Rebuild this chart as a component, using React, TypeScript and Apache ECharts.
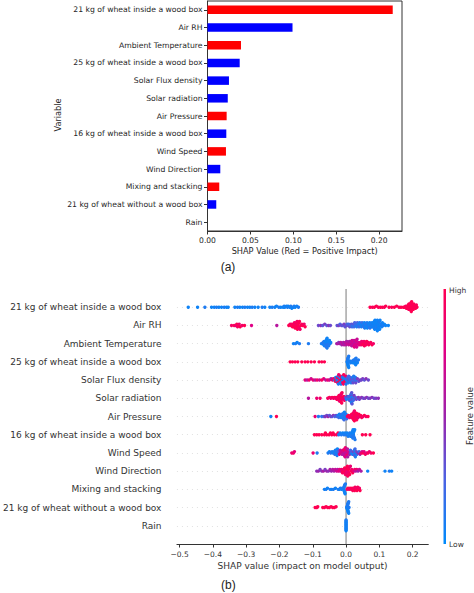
import React, { useEffect, useRef } from "react";
import * as echarts from "echarts";

const features = [
  "21 kg of wheat inside a wood box",
  "Air RH",
  "Ambient Temperature",
  "25 kg of wheat inside a wood box",
  "Solar Flux density",
  "Solar radiation",
  "Air Pressure",
  "16 kg of wheat inside a wood box",
  "Wind Speed",
  "Wind Direction",
  "Mixing and stacking",
  "21 kg of wheat without a wood box",
  "Rain",
];

// (a) mean |SHAP| per variable and sign of impact
const meanAbsShap = [0.2157, 0.099, 0.039, 0.0375, 0.025, 0.0236, 0.0223, 0.0219, 0.0215, 0.0149, 0.0137, 0.0102, 0];
const positiveImpact = [true, false, true, false, false, false, true, false, true, false, true, false, false];
const barTicks = [0, 0.05, 0.1, 0.15, 0.2];
const swarmTicks = [-0.5, -0.4, -0.3, -0.2, -0.1, 0, 0.1, 0.2];

// (b) SHAP value, feature value (0 = low, 1 = high)
const wheat21Box: [number, number][] = [
  [-0.474, 0.05], [-0.446, 0.05], [-0.424, 0.1], [-0.404, 0.05], [-0.396, 0.05], [-0.389, 0.1], [-0.382, 0.05], [-0.374, 0.05],
  [-0.366, 0.1], [-0.359, 0.05], [-0.354, 0.05], [-0.334, 0.05], [-0.326, 0.1], [-0.319, 0.05], [-0.311, 0.05], [-0.304, 0.1],
  [-0.296, 0.05], [-0.289, 0.05], [-0.282, 0.1], [-0.274, 0.05], [-0.264, 0.05], [-0.252, 0.1], [-0.244, 0.05], [-0.229, 0.05],
  [-0.222, 0.1], [-0.214, 0.05], [-0.209, 0.05], [-0.202, 0.1], [-0.196, 0.05], [-0.189, 0.05], [-0.186, 0.1], [-0.184, 0.05],
  [-0.179, 0.05], [-0.176, 0.1], [-0.174, 0.05], [-0.169, 0.05], [-0.166, 0.1], [-0.163, 0.05], [-0.158, 0.05], [-0.156, 0.1],
  [-0.153, 0.05], [-0.148, 0.05], [-0.143, 0.1],
  [0.072, 1], [0.079, 0.95], [0.085, 1], [0.091, 1], [0.097, 0.95], [0.103, 1], [0.109, 1], [0.115, 0.95], [0.119, 1],
  [0.129, 1], [0.137, 0.95], [0.145, 1], [0.152, 1], [0.159, 0.95], [0.165, 1], [0.172, 1],
  [0.176, 1], [0.179, 0.95], [0.181, 1], [0.183, 1], [0.184, 0.95], [0.186, 1], [0.187, 1], [0.188, 0.95], [0.189, 1],
  [0.19, 1], [0.191, 0.95], [0.192, 1], [0.193, 1], [0.193, 0.95], [0.194, 1], [0.195, 1], [0.195, 0.95], [0.196, 1],
  [0.197, 1], [0.198, 0.95], [0.199, 1], [0.2, 1], [0.201, 0.95], [0.202, 1], [0.203, 1], [0.205, 0.95], [0.207, 1],
  [0.209, 1], [0.211, 0.95], [0.213, 1],
];

const airRH: [number, number][] = [
  [-0.344, 0.9], [-0.336, 1], [-0.331, 0.8], [-0.328, 1], [-0.326, 0.9], [-0.323, 1], [-0.321, 0.85], [-0.318, 1],
  [-0.312, 0.9], [-0.305, 1], [-0.284, 0.75], [-0.208, 0.6],
  [-0.172, 1], [-0.168, 0.95], [-0.165, 1], [-0.163, 0.9], [-0.161, 1], [-0.159, 0.95], [-0.158, 1], [-0.156, 1],
  [-0.155, 0.9], [-0.153, 1], [-0.152, 0.95], [-0.151, 0.9], [-0.15, 1], [-0.149, 1], [-0.148, 1], [-0.147, 0.9],
  [-0.146, 1], [-0.145, 0.95], [-0.144, 0.95], [-0.143, 1], [-0.142, 1], [-0.141, 0.9], [-0.14, 1], [-0.138, 0.9],
  [-0.136, 1], [-0.133, 0.95], [-0.13, 1], [-0.126, 0.9], [-0.123, 1],
  [-0.083, 0.35], [-0.076, 0.45], [-0.07, 0.3], [-0.064, 0.4], [-0.058, 0.3], [-0.052, 0.45], [-0.047, 0.35],
  [-0.027, 0.3], [-0.022, 0.4], [-0.018, 0.25], [-0.014, 0.35], [-0.01, 0.3], [-0.006, 0.4], [-0.003, 0.3],
  [0.0, 0.35], [0.003, 0.25], [0.006, 0.3], [0.008, 0.2], [0.011, 0.35], [0.013, 0.25], [0.016, 0.3], [0.018, 0.2],
  [0.02, 0.15], [0.022, 0.3], [0.024, 0.2], [0.026, 0.25], [0.028, 0.15], [0.03, 0.2], [0.032, 0.1], [0.034, 0.25],
  [0.036, 0.15], [0.037, 0.1], [0.039, 0.2], [0.041, 0.1], [0.043, 0.15], [0.044, 0.05], [0.046, 0.1], [0.048, 0.2],
  [0.05, 0.05], [0.051, 0.1], [0.053, 0.15], [0.055, 0.05], [0.056, 0.1], [0.058, 0.05], [0.06, 0.15], [0.061, 0.05],
  [0.063, 0.1], [0.064, 0.05], [0.066, 0.1], [0.068, 0.05], [0.069, 0.1], [0.071, 0.05], [0.072, 0.15], [0.074, 0.05],
  [0.075, 0.1], [0.077, 0.05], [0.078, 0.05], [0.08, 0.1], [0.081, 0.05], [0.082, 0.05], [0.083, 0.05], [0.084, 0.1],
  [0.085, 0.05], [0.086, 0.05], [0.087, 0.05], [0.088, 0.1], [0.089, 0.05], [0.089, 0.05], [0.09, 0.05], [0.091, 0.1],
  [0.092, 0.05], [0.093, 0.05], [0.094, 0.05], [0.094, 0.05], [0.095, 0.1], [0.096, 0.05], [0.097, 0.05], [0.098, 0.05],
  [0.099, 0.05], [0.1, 0.1], [0.101, 0.05], [0.102, 0.05], [0.103, 0.05], [0.105, 0.1], [0.107, 0.05], [0.109, 0.05],
  [0.112, 0.1], [0.115, 0.05], [0.119, 0.05], [0.127, 0.05],
];

const ambientTemp: [number, number][] = [
  [-0.158, 0.05], [-0.152, 0.1], [-0.147, 0.05], [-0.14, 0.1], [-0.113, 0.1],
  [-0.074, 0.1], [-0.071, 0.05], [-0.069, 0.15], [-0.067, 0.05], [-0.066, 0.1], [-0.065, 0.05], [-0.064, 0.15], [-0.063, 0.05],
  [-0.062, 0.1], [-0.061, 0.05], [-0.06, 0.1], [-0.06, 0.05], [-0.059, 0.15], [-0.058, 0.05], [-0.057, 0.1], [-0.057, 0.05],
  [-0.056, 0.1], [-0.055, 0.05], [-0.054, 0.15], [-0.053, 0.05], [-0.052, 0.1], [-0.05, 0.05], [-0.048, 0.1], [-0.046, 0.05],
  [-0.028, 0.5], [-0.025, 0.6], [-0.022, 0.45], [-0.019, 0.55], [-0.016, 0.6], [-0.013, 0.5], [-0.01, 0.65], [-0.008, 0.55],
  [-0.006, 0.6], [-0.004, 0.5], [-0.002, 0.65], [0.0, 0.6], [0.002, 0.55], [0.004, 0.7], [0.006, 0.6], [0.008, 0.65],
  [0.01, 0.55], [0.012, 0.7], [0.013, 0.6], [0.015, 0.75], [0.016, 0.65], [0.017, 0.6], [0.018, 0.7], [0.019, 0.8],
  [0.02, 0.65], [0.021, 0.6], [0.022, 0.75], [0.023, 0.7], [0.024, 0.65], [0.025, 0.8], [0.026, 0.7], [0.027, 0.6],
  [0.028, 0.75], [0.029, 0.65], [0.03, 0.7], [0.031, 0.8], [0.032, 0.7], [0.033, 0.65], [0.035, 0.75], [0.037, 0.7],
  [0.039, 0.8], [0.041, 0.75], [0.043, 0.85], [0.045, 0.9], [0.047, 0.85], [0.049, 0.95], [0.051, 0.9], [0.052, 1],
  [0.054, 0.9], [0.055, 0.95], [0.057, 1], [0.058, 0.9], [0.06, 0.95], [0.062, 1], [0.064, 0.9], [0.066, 0.95],
  [0.068, 1], [0.071, 0.9], [0.074, 0.95], [0.078, 1], [0.082, 0.9],
];

const wheat25Box: [number, number][] = [
  [-0.168, 1], [-0.161, 1], [-0.153, 1], [-0.145, 1], [-0.133, 1], [-0.123, 1], [-0.115, 1], [-0.105, 1],
  [-0.095, 1], [-0.081, 1], [-0.073, 1], [-0.065, 1],
  [0.003, 0.05], [0.004, 0.1], [0.004, 0.05], [0.005, 0.1], [0.005, 0.05], [0.005, 0.1], [0.006, 0.05], [0.006, 0.1],
  [0.006, 0.05], [0.007, 0.1], [0.007, 0.05], [0.008, 0.1], [0.008, 0.05], [0.009, 0.1],
  [0.011, 0.05], [0.014, 0.1], [0.017, 0.05], [0.019, 0.1], [0.021, 0.05], [0.023, 0.1], [0.024, 0.05], [0.025, 0.1],
  [0.026, 0.05], [0.027, 0.1], [0.027, 0.05], [0.028, 0.1], [0.029, 0.05], [0.03, 0.1], [0.031, 0.05], [0.032, 0.1],
  [0.034, 0.05], [0.037, 0.1],
];

const solarFlux: [number, number][] = [
  [-0.123, 0.8], [-0.117, 0.6], [-0.111, 0.9], [-0.105, 0.7], [-0.099, 0.85], [-0.093, 0.6], [-0.087, 0.9], [-0.08, 0.7],
  [-0.073, 0.95], [-0.067, 0.8], [-0.061, 0.6], [-0.055, 0.9], [-0.05, 0.7], [-0.045, 0.5], [-0.041, 0.85],
  [-0.038, 0.9], [-0.035, 0.1], [-0.033, 1], [-0.032, 0.95], [-0.031, 0.05], [-0.029, 0.95], [-0.028, 0.05], [-0.027, 0.1],
  [-0.026, 1], [-0.025, 1], [-0.024, 0.05], [-0.023, 0.1], [-0.022, 0.9], [-0.021, 0.1], [-0.02, 0.9], [-0.019, 1],
  [-0.018, 0.05], [-0.017, 0.05], [-0.016, 0.95], [-0.015, 0.1], [-0.014, 1], [-0.013, 1], [-0.012, 0.05], [-0.011, 0.1],
  [-0.01, 0.9], [-0.009, 0.1], [-0.008, 0.95], [-0.007, 1], [-0.006, 0.05], [-0.005, 0.05], [-0.004, 0.95], [-0.003, 0.1],
  [-0.002, 1], [-0.001, 0.9], [0.0, 0.1], [0.001, 0.1],
  [0.003, 0.15], [0.004, 0.1], [0.005, 0.3], [0.007, 0.1], [0.008, 0.2], [0.009, 0.35], [0.011, 0.15], [0.012, 0.1],
  [0.013, 0.25], [0.015, 0.1], [0.016, 0.3], [0.017, 0.3], [0.019, 0.15], [0.02, 0.1], [0.021, 0.35], [0.023, 0.1],
  [0.024, 0.25], [0.025, 0.3], [0.027, 0.2], [0.028, 0.1], [0.029, 0.35], [0.031, 0.15],
  [0.034, 0.4], [0.038, 0.3], [0.042, 0.45], [0.046, 0.35], [0.05, 0.4], [0.055, 0.3], [0.06, 0.45], [0.067, 0.35],
];

const solarRad: [number, number][] = [
  [-0.113, 0.6], [-0.088, 0.85], [-0.078, 0.9], [-0.055, 0.9], [-0.05, 1], [-0.046, 0.85], [-0.042, 0.95],
  [-0.038, 0.9], [-0.035, 1], [-0.032, 0.85], [-0.03, 0.95], [-0.028, 1], [-0.026, 0.8], [-0.024, 0.95], [-0.023, 1],
  [-0.022, 1], [-0.021, 0.9], [-0.021, 0.95], [-0.02, 0.85], [-0.019, 1], [-0.019, 0.9], [-0.018, 0.95], [-0.017, 0.9],
  [-0.017, 1], [-0.016, 1], [-0.016, 0.85], [-0.015, 0.8], [-0.015, 1], [-0.014, 0.95], [-0.013, 1], [-0.012, 0.95],
  [-0.011, 0.9], [-0.01, 1], [-0.009, 0.85], [-0.007, 1], [-0.005, 0.9], [-0.003, 0.7],
  [-0.001, 0.3], [0.001, 0.1], [0.003, 0.4], [0.005, 0.15], [0.007, 0.3], [0.008, 0.1], [0.009, 0.1], [0.01, 0.35],
  [0.011, 0.15], [0.011, 0.3], [0.012, 0.05], [0.013, 0.3], [0.013, 0.05], [0.014, 0.1], [0.014, 0.35], [0.015, 0.4],
  [0.016, 0.15], [0.016, 0.1], [0.017, 0.05], [0.017, 0.3], [0.018, 0.3], [0.019, 0.1], [0.019, 0.05], [0.02, 0.35],
  [0.021, 0.15], [0.022, 0.2], [0.024, 0.4], [0.026, 0.15], [0.028, 0.3], [0.031, 0.4], [0.034, 0.25], [0.037, 0.45],
  [0.04, 0.35], [0.043, 0.4],
  [0.047, 0.45], [0.052, 0.35], [0.057, 0.4], [0.062, 0.45], [0.067, 0.35], [0.072, 0.4], [0.078, 0.45], [0.084, 0.35],
  [0.09, 0.4], [0.097, 0.45],
];

const airPressure: [number, number][] = [
  [-0.226, 0.05], [-0.209, 1], [-0.093, 0.85], [-0.083, 0.1], [-0.073, 0.15], [-0.066, 0.3], [-0.062, 0.45], [-0.058, 0.35],
  [-0.054, 0.5], [-0.05, 0.3], [-0.046, 0.4], [-0.042, 0.3], [-0.038, 0.45], [-0.034, 0.25], [-0.03, 0.35], [-0.027, 0.2],
  [-0.024, 0.1], [-0.022, 0.2], [-0.02, 0.05], [-0.018, 0.15], [-0.016, 0.1], [-0.015, 0.05], [-0.013, 0.2], [-0.012, 0.1],
  [-0.011, 0.05], [-0.01, 0.15], [-0.009, 0.1], [-0.008, 0.05], [-0.007, 0.1], [-0.006, 0.2], [-0.005, 0.05], [-0.004, 0.1],
  [-0.003, 0.15], [-0.002, 0.05], [0.0, 0.1], [0.002, 0.2],
  [0.004, 0.9], [0.007, 1], [0.01, 0.85], [0.012, 0.95], [0.014, 1], [0.016, 0.9], [0.017, 1], [0.018, 1], [0.019, 0.9],
  [0.02, 0.95], [0.021, 0.85], [0.021, 1], [0.022, 1], [0.023, 0.95], [0.024, 0.9], [0.025, 1], [0.025, 0.9], [0.026, 0.95],
  [0.027, 1], [0.028, 1], [0.029, 0.95], [0.03, 0.9], [0.031, 1], [0.032, 1], [0.033, 0.9],
  [0.034, 0.95], [0.036, 0.85], [0.038, 1], [0.041, 0.9], [0.044, 1], [0.047, 0.95], [0.051, 0.9], [0.055, 1],
  [0.06, 0.9], [0.066, 1],
];

const wheat16Box: [number, number][] = [
  [-0.095, 1], [-0.088, 1], [-0.081, 1], [-0.073, 1], [-0.065, 1], [-0.062, 1], [-0.058, 1], [-0.051, 1], [-0.047, 1],
  [-0.043, 1], [-0.039, 1], [-0.035, 1], [-0.028, 1], [-0.024, 1],
  [-0.022, 0.1], [-0.018, 0.05], [-0.014, 0.1], [-0.01, 0.05], [-0.006, 0.1], [-0.003, 0.05], [0.0, 0.1], [0.003, 0.05],
  [0.006, 0.1], [0.009, 0.05], [0.011, 0.1], [0.013, 0.05], [0.015, 0.1], [0.017, 0.05], [0.018, 0.1], [0.019, 0.05],
  [0.02, 0.1], [0.021, 0.05], [0.022, 0.1], [0.022, 0.05], [0.023, 0.1], [0.024, 0.05], [0.025, 0.1], [0.026, 0.05],
  [0.027, 0.1],
  [0.049, 1], [0.059, 1], [0.072, 1],
];

const windSpeed: [number, number][] = [
  [-0.163, 0.85], [-0.158, 0.9], [-0.155, 0.8], [-0.099, 0.85], [-0.087, 0.1],
  [-0.054, 0.1], [-0.05, 0.05], [-0.046, 0.15], [-0.042, 0.1], [-0.039, 0.05], [-0.036, 0.1], [-0.034, 0.2], [-0.032, 0.05],
  [-0.031, 0.1], [-0.03, 0.1], [-0.029, 0.05], [-0.028, 0.15], [-0.027, 0.1], [-0.026, 0.05], [-0.024, 0.1], [-0.022, 0.3],
  [-0.02, 0.8], [-0.018, 0.6], [-0.016, 0.9], [-0.014, 0.7], [-0.012, 0.55], [-0.01, 0.85], [-0.009, 0.8], [-0.008, 0.65],
  [-0.007, 0.6], [-0.006, 0.9], [-0.005, 0.6], [-0.004, 0.9], [-0.003, 0.75], [-0.002, 0.85], [-0.001, 0.7], [0.0, 0.6],
  [0.001, 0.7], [0.002, 0.85], [0.003, 0.9], [0.004, 0.6], [0.005, 0.55], [0.007, 0.8], [0.009, 0.65], [0.011, 0.5],
  [0.013, 0.2], [0.015, 0.1], [0.017, 0.3], [0.019, 0.05], [0.021, 0.15], [0.023, 0.4], [0.024, 0.1], [0.025, 0.1],
  [0.026, 0.3], [0.027, 0.2], [0.028, 0.1], [0.029, 0.05], [0.031, 0.35], [0.033, 0.1], [0.036, 0.45], [0.039, 0.2],
  [0.042, 0.5], [0.045, 0.9], [0.048, 0.7], [0.051, 1], [0.054, 0.8], [0.058, 0.95], [0.062, 0.75], [0.066, 1],
  [0.07, 0.85], [0.075, 0.9], [0.082, 1],
];

const windDir: [number, number][] = [
  [-0.088, 0.45], [-0.083, 0.5], [-0.078, 0.4], [-0.073, 0.45], [-0.068, 0.55], [-0.063, 0.4], [-0.058, 0.5], [-0.053, 0.45],
  [-0.048, 0.55], [-0.044, 0.5], [-0.04, 0.6], [-0.036, 0.55], [-0.032, 0.65], [-0.028, 0.7], [-0.025, 0.6], [-0.022, 0.75],
  [-0.019, 0.8], [-0.016, 0.7],
  [-0.013, 0.9], [-0.011, 0.95], [-0.009, 1], [-0.007, 0.85], [-0.005, 0.95], [-0.004, 1], [-0.002, 0.9], [-0.001, 1],
  [0.0, 0.95], [0.001, 0.85], [0.002, 1], [0.003, 0.9], [0.004, 1], [0.005, 0.95], [0.006, 0.8], [0.007, 1],
  [0.008, 0.9], [0.009, 0.95], [0.011, 1], [0.013, 0.85], [0.015, 0.95], [0.017, 0.9], [0.02, 1], [0.023, 0.8],
  [0.026, 0.9], [0.029, 0.6], [0.032, 0.85], [0.036, 0.5], [0.04, 0.7], [0.045, 0.55],
  [0.065, 0.05], [0.117, 0.05], [0.13, 0.1], [0.137, 0.05],
];

const mixing: [number, number][] = [
  [-0.065, 0.05], [-0.06, 0.1], [-0.056, 0.05], [-0.048, 0.1], [-0.043, 0.05], [-0.038, 0.1], [-0.032, 0.05], [-0.024, 0.1],
  [-0.02, 0.05], [-0.017, 0.1], [-0.014, 0.05], [-0.011, 0.1],
  [-0.008, 0.05], [-0.007, 0.1], [-0.006, 0.05], [-0.006, 0.1], [-0.005, 0.05], [-0.005, 0.1], [-0.004, 0.05], [-0.004, 0.1],
  [-0.003, 0.05], [-0.002, 0.1],
  [0.003, 0.9], [0.006, 1], [0.009, 0.95], [0.012, 1], [0.015, 0.9], [0.018, 1], [0.02, 0.95], [0.022, 1], [0.024, 0.9],
  [0.026, 1], [0.027, 0.95], [0.029, 1], [0.031, 0.9], [0.033, 1], [0.035, 0.95], [0.037, 1], [0.04, 0.9], [0.042, 1],
];

const wheat21NoBox: [number, number][] = [
  [-0.093, 1], [-0.088, 1], [-0.085, 1], [-0.07, 1], [-0.065, 1], [-0.06, 1], [-0.055, 1], [-0.05, 1], [-0.045, 1],
  [-0.04, 1], [-0.035, 1], [-0.03, 1],
  [0.002, 0.05], [0.003, 0.1], [0.003, 0.05], [0.004, 0.1], [0.004, 0.05], [0.005, 0.1], [0.005, 0.05], [0.005, 0.1],
  [0.006, 0.05], [0.006, 0.1], [0.006, 0.05], [0.007, 0.1], [0.007, 0.05], [0.008, 0.1], [0.008, 0.05], [0.009, 0.1],
];

const rain: [number, number][] = [
  [0, 0.05], [0, 0.1], [0, 0.05], [0, 0.05], [0, 0.1], [0, 0.05], [0, 0.05], [0, 0.1], [0, 0.05], [0, 0.05], [0, 0.1],
  [0, 0.05], [0, 0.05], [0, 0.1],
];

const swarmRows = [
  wheat21Box, airRH, ambientTemp, wheat25Box, solarFlux, solarRad, airPressure, wheat16Box, windSpeed, windDir,
  mixing, wheat21NoBox, rain,
];

const shapColors = ["#008bfb", "#4b63e3", "#9c23ac", "#e00086", "#ff0052"];

// shap-style beeswarm vertical offsets (layout only), fixed bin width in SHAP units
function beeswarm(vals: number[], binWidth: number): number[] {
  const n = vals.length;
  const mn = Math.min(...vals);
  const quant = vals.map((v) => Math.round((v - mn) / binWidth));
  const inds = vals.map((_, i) => i).sort((a, b) => quant[a] - quant[b] || a - b);
  const ys = new Array(n).fill(0);
  let layer = 0;
  let last = -1;
  for (const ind of inds) {
    if (quant[ind] !== last) layer = 0;
    ys[ind] = Math.ceil(layer / 2) * ((layer % 2) * 2 - 1);
    layer++;
    last = quant[ind];
  }
  const m = Math.max(...ys.map((y) => y + 1));
  return ys.map((y) => (y * 0.9 * 0.4) / m);
}

const FONT = "DejaVu Sans";

export default function App() {
  const ref = useRef<HTMLDivElement>(null);
  useEffect(() => {
    if (!ref.current) return;
    const chart = echarts.init(ref.current, undefined, { renderer: "svg" });

    const scatterData: number[][] = [];
    swarmRows.forEach((pts, r) => {
      const offs = beeswarm(pts.map((p) => p[0]), 0.0075);
      pts.forEach((p, i) => scatterData.push([p[0], r - offs[i], p[1]]));
    });

    const barData = meanAbsShap.map((v, i) => ({
      value: v,
      itemStyle: { color: positiveImpact[i] ? "#ff0000" : "#0000ff" },
    }));

    const textStyle = (text: string, size: number, extra: any = {}) => ({
      text,
      fontSize: size,
      fontFamily: FONT,
      fill: "#262626",
      align: "center",
      verticalAlign: "middle",
      ...extra,
    });

    chart.setOption({
      animation: false,
      textStyle: { fontFamily: FONT },
      grid: [
        { left: 207.5, top: 1, width: 194.5, height: 230, show: true, borderColor: "#333", borderWidth: 1, backgroundColor: "transparent" },
        { left: 176.7, top: 289, width: 251.6, height: 255 },
      ],
      xAxis: [
        {
          type: "value",
          gridIndex: 0,
          min: 0,
          max: 0.2265,
          splitLine: { show: false },
          axisLine: { show: true, onZero: false, lineStyle: { color: "#333" } },
          axisTick: { show: true, length: 3.5, customValues: barTicks, lineStyle: { color: "#333" } },
          axisLabel: {
            customValues: barTicks,
            formatter: (v: number) => v.toFixed(2),
            fontSize: 7.6,
            color: "#262626",
            margin: 5,
          },
        },
        {
          type: "value",
          gridIndex: 1,
          min: -0.508,
          max: 0.247,
          splitLine: { show: false },
          axisLine: { show: true, onZero: false, lineStyle: { color: "#333", width: 1 } },
          axisTick: { show: true, length: 3.5, customValues: swarmTicks, lineStyle: { color: "#333" } },
          axisLabel: {
            customValues: swarmTicks,
            formatter: (v: number) => (v < 0 ? "\u2212" : "") + Math.abs(v).toFixed(1),
            fontSize: 7.5,
            color: "#333",
            margin: 6,
          },
        },
      ],
      yAxis: [
        {
          type: "category",
          gridIndex: 0,
          inverse: true,
          data: features,
          axisLine: { show: true, lineStyle: { color: "#333" } },
          axisTick: { show: true, alignWithLabel: true, length: 3.5, lineStyle: { color: "#333" } },
          axisLabel: { fontSize: 7.7, color: "#262626", margin: 5 },
          splitLine: { show: false },
        },
        {
          type: "value",
          gridIndex: 1,
          inverse: true,
          min: -1,
          max: 13,
          interval: 1,
          axisLine: { show: false },
          axisTick: { show: false },
          axisLabel: {
            formatter: (v: number) => features[v] ?? "",
            fontSize: 9,
            color: "#333",
            margin: 15.5,
          },
          splitLine: {
            show: true,
            showMinLine: false,
            showMaxLine: false,
            lineStyle: { color: "#cccccc", width: 0.6, type: [1, 4] },
          },
        },
      ],
      visualMap: {
        type: "continuous",
        show: false,
        min: 0,
        max: 1,
        dimension: 2,
        seriesIndex: 2,
        inRange: { color: shapColors },
      },
      series: [
        {
          type: "bar",
          xAxisIndex: 0,
          yAxisIndex: 0,
          data: barData,
          barWidth: 8.5,
        },
        {
          type: "line",
          xAxisIndex: 1,
          yAxisIndex: 1,
          data: [[0, -1], [0, 13]],
          symbol: "none",
          lineStyle: { color: "#999999", width: 1.3 },
          silent: true,
          z: 1,
        },
        {
          type: "scatter",
          xAxisIndex: 1,
          yAxisIndex: 1,
          data: scatterData,
          symbolSize: 3.4,
          itemStyle: { opacity: 1 },
          z: 3,
        },
      ],
      graphic: [
        { type: "text", x: 57.7, y: 115, rotation: Math.PI / 2, style: textStyle("Variable", 8.2) },
        { type: "text", x: 304.7, y: 251, style: textStyle("SHAP Value (Red = Positive Impact)", 8.2) },
        { type: "text", x: 228, y: 267, style: textStyle("(a)", 12, { fontFamily: "Liberation Sans", fill: "#222" }) },
        { type: "text", x: 302.5, y: 565.7, style: textStyle("SHAP value (impact on model output)", 9, { fill: "#333" }) },
        { type: "text", x: 228.3, y: 585, style: textStyle("(b)", 12, { fontFamily: "Liberation Sans", fill: "#222" }) },
        {
          type: "rect",
          shape: { x: 443.5, y: 289, width: 2.5, height: 255 },
          style: {
            fill: new echarts.graphic.LinearGradient(0, 0, 0, 1, [
              { offset: 0, color: shapColors[4] },
              { offset: 0.25, color: shapColors[3] },
              { offset: 0.5, color: shapColors[2] },
              { offset: 0.75, color: shapColors[1] },
              { offset: 1, color: shapColors[0] },
            ]),
          },
        },
        { type: "text", x: 449, y: 290, style: textStyle("High", 7.5, { align: "left", fill: "#333" }) },
        { type: "text", x: 449, y: 544, style: textStyle("Low", 7.5, { align: "left", fill: "#333" }) },
        { type: "text", x: 469.5, y: 416, rotation: Math.PI / 2, style: textStyle("Feature value", 8.5, { fill: "#333" }) },
      ],
    });
    return () => chart.dispose();
  }, []);
  return <div ref={ref} style={{ position: "absolute", left: 0, top: 0, width: 474, height: 593 }} />;
}
